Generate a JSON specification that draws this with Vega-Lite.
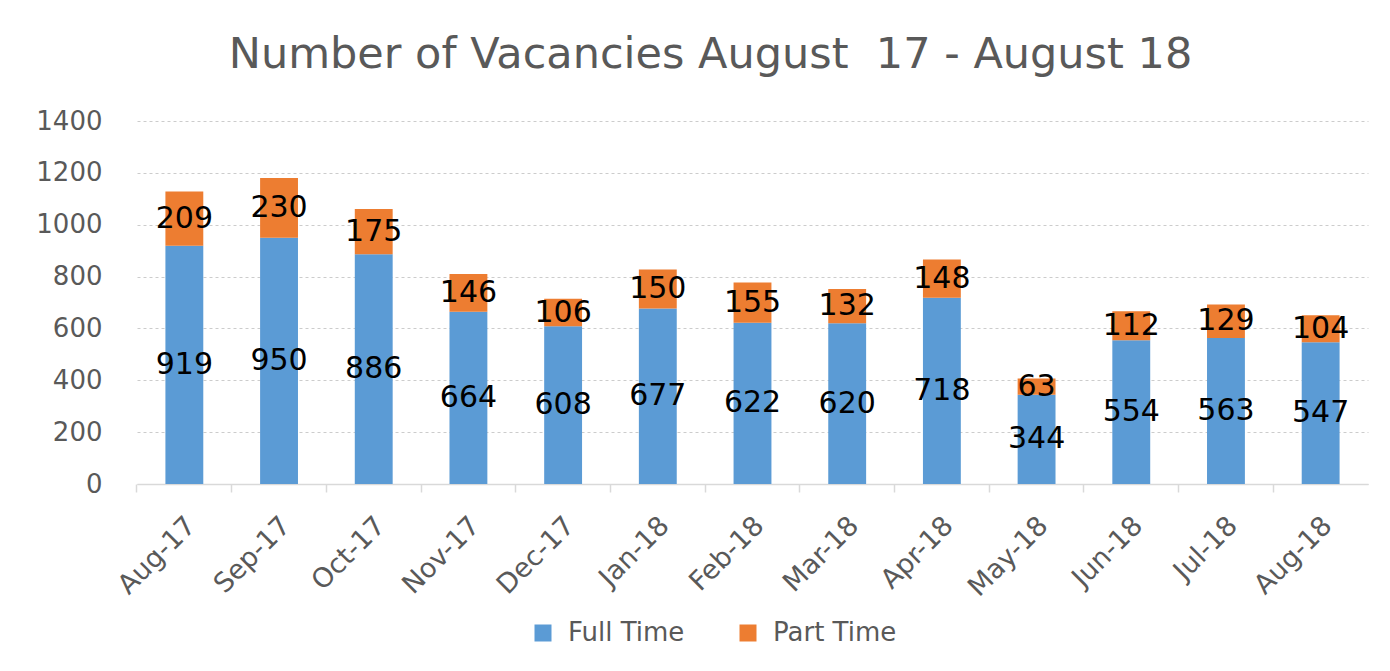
{
  "$schema": "https://vega.github.io/schema/vega-lite/v6.json",
  "width": 1231,
  "height": 363,
  "autosize": {"type": "none"},
  "padding": {"left": 137, "top": 121, "right": 22, "bottom": 187},
  "background": "white",
  "title": {
    "text": "Number of Vacancies August\u00a0 17 - August 18",
    "font": "DejaVu Sans",
    "fontSize": 43,
    "fontWeight": "normal",
    "color": "#595959",
    "anchor": "middle",
    "baseline": "alphabetic",
    "dx": -42,
    "offset": -3
  },
  "data": {
    "values": [
      {"month": "Aug-17", "type": "Full Time", "value": 919},
      {"month": "Aug-17", "type": "Part Time", "value": 209},
      {"month": "Sep-17", "type": "Full Time", "value": 950},
      {"month": "Sep-17", "type": "Part Time", "value": 230},
      {"month": "Oct-17", "type": "Full Time", "value": 886},
      {"month": "Oct-17", "type": "Part Time", "value": 175},
      {"month": "Nov-17", "type": "Full Time", "value": 664},
      {"month": "Nov-17", "type": "Part Time", "value": 146},
      {"month": "Dec-17", "type": "Full Time", "value": 608},
      {"month": "Dec-17", "type": "Part Time", "value": 106},
      {"month": "Jan-18", "type": "Full Time", "value": 677},
      {"month": "Jan-18", "type": "Part Time", "value": 150},
      {"month": "Feb-18", "type": "Full Time", "value": 622},
      {"month": "Feb-18", "type": "Part Time", "value": 155},
      {"month": "Mar-18", "type": "Full Time", "value": 620},
      {"month": "Mar-18", "type": "Part Time", "value": 132},
      {"month": "Apr-18", "type": "Full Time", "value": 718},
      {"month": "Apr-18", "type": "Part Time", "value": 148},
      {"month": "May-18", "type": "Full Time", "value": 344},
      {"month": "May-18", "type": "Part Time", "value": 63},
      {"month": "Jun-18", "type": "Full Time", "value": 554},
      {"month": "Jun-18", "type": "Part Time", "value": 112},
      {"month": "Jul-18", "type": "Full Time", "value": 563},
      {"month": "Jul-18", "type": "Part Time", "value": 129},
      {"month": "Aug-18", "type": "Full Time", "value": 547},
      {"month": "Aug-18", "type": "Part Time", "value": 104}
    ]
  },
  "encoding": {
    "x": {
      "field": "month",
      "type": "nominal",
      "sort": ["Aug-17", "Sep-17", "Oct-17", "Nov-17", "Dec-17", "Jan-18", "Feb-18", "Mar-18", "Apr-18", "May-18", "Jun-18", "Jul-18", "Aug-18"],
      "scale": {"paddingInner": 0.6, "paddingOuter": 0.3},
      "axis": {
        "title": null,
        "bandPosition": -0.75,
        "labelOffset": -2,
        "labelAngle": -45,
        "labelFont": "DejaVu Sans",
        "labelFontSize": 27,
        "labelColor": "#595959",
        "labelPadding": 20,
        "domainColor": "#d9d9d9",
        "domainWidth": 1.5,
        "tickColor": "#d9d9d9",
        "tickSize": 8,
        "tickWidth": 1.5,
        "grid": false
      }
    }
  },
  "layer": [
    {
      "mark": {"type": "bar"},
      "encoding": {
        "y": {
          "field": "value",
          "type": "quantitative",
          "stack": "zero",
          "scale": {"domain": [0, 1400], "nice": false},
          "axis": {
            "title": null,
            "format": "d",
            "values": [0, 200, 400, 600, 800, 1000, 1200, 1400],
            "domain": false,
            "ticks": false,
            "labelFont": "DejaVu Sans",
            "labelFontSize": 26,
            "labelColor": "#595959",
            "labelPadding": 35,
            "gridColor": "#cccccc",
            "gridDash": [3, 3],
            "gridWidth": 1
          }
        },
        "color": {
          "field": "type",
          "type": "nominal",
          "scale": {"domain": ["Full Time", "Part Time"], "range": ["#5B9BD5", "#ED7D31"]},
          "legend": {
            "title": null,
            "orient": "none",
            "legendX": 393,
            "legendY": 499,
            "direction": "horizontal",
            "symbolType": "square",
            "symbolSize": 289,
            "symbolStrokeWidth": 0,
            "labelFont": "DejaVu Sans",
            "labelFontSize": 26,
            "labelColor": "#595959",
            "labelOffset": 12,
            "columnPadding": 50,
            "padding": 0
          }
        },
        "order": {"field": "type", "sort": "ascending"}
      }
    },
    {
      "transform": [
        {"stack": "value", "groupby": ["month"], "sort": [{"field": "type", "order": "ascending"}], "as": ["y0", "y1"]},
        {"fold": ["y0", "y1"], "as": ["edge", "pos"]},
        {"aggregate": [{"op": "mean", "field": "pos", "as": "mid"}], "groupby": ["month", "type", "value"]}
      ],
      "mark": {"type": "text", "font": "DejaVu Sans", "fontSize": 30, "color": "black"},
      "encoding": {
        "y": {"field": "mid", "type": "quantitative"},
        "text": {"field": "value", "type": "quantitative"}
      }
    }
  ],
  "config": {"view": {"stroke": null}}
}
